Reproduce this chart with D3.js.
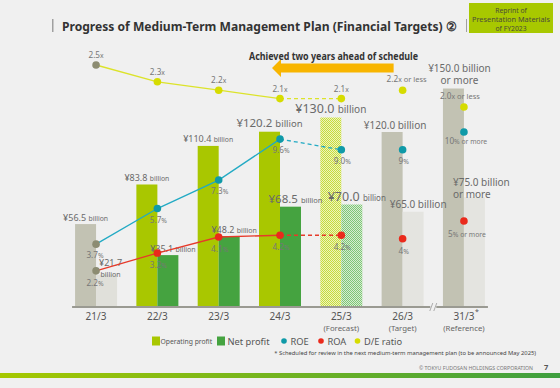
<!DOCTYPE html>
<html>
<head>
<meta charset="utf-8">
<script src="https://cdn.jsdelivr.net/npm/d3@7"></script>
<style>
body { margin: 0; background: #f0f0f0; }
svg { display: block; font-family: "Noto Sans", "Open Sans", sans-serif; }
</style>
</head>
<body>
<div id="chart"></div>
<script>
// Chart data
const categories = ["21/3", "22/3", "23/3", "24/3", "25/3", "26/3", "31/3"];
const subLabels = ["", "", "", "", "(Forecast)", "(Target)", "(Reference)"];
const operatingProfit = [56.5, 83.8, 110.4, 120.2, 130.0, 120.0, 150.0];
const netProfit = [21.7, 35.1, 48.2, 68.5, 70.0, 65.0, 75.0];
const roe = [3.7, 5.7, 7.3, 9.6, 9.0, 9, 10];
const roa = [2.2, 3.2, 4.1, 4.2, 4.2, 4, 5];
const deRatio = [2.5, 2.3, 2.2, 2.1, 2.1, 2.2, 2.0];
const roeLabels = ["3.7", "5.7", "7.3", "9.6", "9.0", "9", "10"];
const roaLabels = ["2.2", "3.2", "4.1", "4.2", "4.2", "4", "5"];
const deLabels = ["2.5", "2.3", "2.2", "2.1", "2.1", "2.2", "2.0"];
const opLabels = ["¥56.5", "¥83.8", "¥110.4", "¥120.2", "¥130.0", "¥120.0", "¥150.0"];
const netLabels = ["¥21.7", "¥35.1", "¥48.2", "¥68.5", "¥70.0", "¥65.0", "¥75.0"];

const W = 560, H = 388;
const baseY = 306;

const svg = d3.select("#chart").append("svg")
    .attr("width", W).attr("height", H);

svg.append("rect").attr("width", W).attr("height", H).attr("fill", "#f0f0f0");

const defs = svg.append("defs");
function checker(id, a, b) {
    const p = defs.append("pattern").attr("id", id)
        .attr("width", 2).attr("height", 2).attr("patternUnits", "userSpaceOnUse");
    p.append("rect").attr("width", 2).attr("height", 2).attr("fill", a);
    p.append("rect").attr("width", 1).attr("height", 1).attr("fill", b);
    p.append("rect").attr("x", 1).attr("y", 1).attr("width", 1).attr("height", 1).attr("fill", b);
}
checker("hatchOp", "#eef4bc", "#c6dc3c");
checker("hatchNet", "#d6ecd2", "#7ec676");

const grad = defs.append("linearGradient").attr("id", "footGrad");
grad.append("stop").attr("offset", "0%").attr("stop-color", "#a6c800");
grad.append("stop").attr("offset", "100%").attr("stop-color", "#3e9f40");

// Scales
const x = d3.scaleBand().domain(categories).range([65.4, 494.6])
    .paddingInner(0.315).paddingOuter(0.1575);
const x1 = d3.scaleBand().domain(["op", "net"]).range([0, x.bandwidth()]);
const yBar = d3.scaleLinear().domain([0, 150]).range([baseY, 88.5]);
const yPct = d3.scaleLinear().domain([0, 10]).range([310, 132]);
const yDE = d3.scaleLinear().domain([2.0, 2.5]).range([107, 65]);
const cx = i => x(categories[i]) + x.bandwidth() / 2;

function opFill(i) {
    if (i === 4) return "url(#hatchOp)";
    if (i === 0 || i >= 5) return "#c2c2b3";
    return "#a9c700";
}
function netFill(i) {
    if (i === 4) return "url(#hatchNet)";
    if (i === 0) return "#e0e0da";
    if (i >= 5) return "#e4e4e0";
    return "#45a340";
}

// Bars
svg.selectAll(".op").data(operatingProfit).enter().append("rect")
    .attr("x", (d, i) => x(categories[i]) + x1("op"))
    .attr("y", d => yBar(d))
    .attr("width", x1.bandwidth())
    .attr("height", d => baseY - yBar(d))
    .attr("fill", (d, i) => opFill(i));

svg.selectAll(".net").data(netProfit).enter().append("rect")
    .attr("x", (d, i) => x(categories[i]) + x1("net"))
    .attr("y", d => yBar(d))
    .attr("width", x1.bandwidth())
    .attr("height", d => baseY - yBar(d))
    .attr("fill", (d, i) => netFill(i));

// Axis
const axisG = svg.append("g")
    .attr("transform", `translate(0,${baseY})`)
    .call(d3.axisBottom(x).tickSize(0).tickPadding(6.5));
axisG.select(".domain").remove();
axisG.selectAll("text")
    .attr("fill", "#555").attr("font-size", 10)
    .attr("font-family", "Noto Sans");

svg.append("line")
    .attr("x1", x(categories[0]) - 3).attr("x2", x(categories[6]) + x.bandwidth() + 3)
    .attr("y1", baseY + 1).attr("y2", baseY + 1)
    .attr("stroke", "#9a9a92").attr("stroke-width", 2);

// axis break
const brk = (x(categories[5]) + x.bandwidth() + x(categories[6])) / 2;
svg.append("rect").attr("x", brk - 3).attr("y", baseY - 2).attr("width", 6).attr("height", 6).attr("fill", "#f0f0f0");
[-2, 2].forEach(o => {
    svg.append("line")
        .attr("x1", brk + o - 1.5).attr("y1", baseY + 5)
        .attr("x2", brk + o + 1.5).attr("y2", baseY - 3)
        .attr("stroke", "#999").attr("stroke-width", 0.8);
});

svg.selectAll(".sub").data(subLabels).enter().append("text")
    .attr("x", (d, i) => cx(i)).attr("y", baseY + 25)
    .attr("text-anchor", "middle").attr("font-size", 7.8).attr("fill", "#666")
    .text(d => d);

svg.append("text").attr("x", cx(6) + 11).attr("y", baseY + 8)
    .attr("font-size", 7).attr("fill", "#555").text("*");

// text with mixed sizes
function mixed(x0, y0, anchor, parts, color) {
    const t = svg.append("text").attr("x", x0).attr("y", y0)
        .attr("text-anchor", anchor).attr("fill", color || "#6a6a6a");
    parts.forEach(p => t.append("tspan").attr("font-size", p[1]).text(p[0]));
    return t;
}

// Operating profit labels
const opSizes = [[9, 6.8], [9, 6.8], [9, 6.8], [11.5, 9.5], [12.5, 10], [10, 10], [10, 10]];
operatingProfit.forEach((d, i) => {
    const xc = x(categories[i]) + x1("op") + x1.bandwidth() / 2;
    const big = i === 3 || i === 4;
    if (i === 6) {
        mixed(xc + 6, yBar(d) - 17, "middle", [[opLabels[i] + " billion", opSizes[i][0]]]);
        mixed(xc + 6, yBar(d) - 5, "middle", [["or more", opSizes[i][0]]]);
    } else {
        mixed(xc + (i === 5 ? 3 : 0), yBar(d) - (big ? 5 : 3.5), "middle",
            [[opLabels[i] + " ", opSizes[i][0]], ["billion", opSizes[i][1]]]);
    }
});

// Net profit labels
const netSizes = [[9, 7], [9, 7], [9, 7], [11.5, 7.5], [12.5, 8], [10, 10], [10, 10]];
netProfit.forEach((d, i) => {
    const x0 = x(categories[i]) + x1("net");
    const xc = x0 + x1.bandwidth() / 2;
    if (i === 0) {
        mixed(xc + 4, yBar(d) - 9, "middle", [[netLabels[i], netSizes[i][0]]]);
        mixed(xc + 4, yBar(d) + 2, "middle", [["billion", netSizes[i][1]]]);
    } else if (i === 6) {
        mixed(x0 - 11, yBar(d) - 11, "start", [[netLabels[i] + " billion", netSizes[i][0]]]);
        mixed(x0 - 11, yBar(d) + 1, "start", [["or more", netSizes[i][0]]]);
    } else {
        mixed(xc + 5, yBar(d) - (i >= 3 ? 4 : 3), "middle",
            [[netLabels[i] + " ", netSizes[i][0]], ["billion", netSizes[i][1]]]);
    }
});

// Lines
function drawSeries(values, yScale, color, lineColor) {
    const line = d3.line().x(i => cx(i)).y(i => yScale(values[i]));
    svg.append("path").datum([0, 1, 2, 3])
        .attr("d", line).attr("fill", "none")
        .attr("stroke", lineColor).attr("stroke-width", 1.3);
    svg.append("path").datum([3, 4])
        .attr("d", line).attr("fill", "none")
        .attr("stroke", lineColor).attr("stroke-width", 1.3)
        .attr("stroke-dasharray", "4,3");
    svg.selectAll(null).data(values).enter().append("circle")
        .attr("cx", (d, i) => cx(i))
        .attr("cy", d => yScale(d))
        .attr("r", 3.8)
        .attr("fill", (d, i) => i === 0 ? "#8c8c72" : color);
}
drawSeries(deRatio, yDE, "#d6dc00", "#dce32a");
drawSeries(roe, yPct, "#0f9aa8", "#22aac4");
drawSeries(roa, yPct, "#ea2a1c", "#e63a2a");

// Point labels
deRatio.forEach((d, i) => {
    const parts = [[deLabels[i], 8.2], ["x", 6.8]];
    if (i >= 5) parts.push([" or less", 7.5]);
    const xo = i === 5 ? 4 : i === 6 ? -4 : 0;
    mixed(cx(i) + xo, yDE(d) - (i >= 5 ? 8 : 7), "middle", parts, "#777");
});
roe.forEach((d, i) => {
    const parts = [[roeLabels[i], 8.2], ["%", 6.8]];
    if (i === 6) parts.push([" or more", 6.8]);
    mixed(cx(i) + (i === 6 ? 2 : i === 0 ? -1 : 1), yPct(d) + (i === 6 ? 12 : 14), "middle", parts, "#777");
});
roa.forEach((d, i) => {
    const parts = [[roaLabels[i], 8.2], ["%", 6.8]];
    if (i === 6) parts.push([" or more", 6.8]);
    mixed(cx(i) + (i === 6 ? 3 : i === 0 ? -1 : 1), yPct(d) + (i === 6 ? 16 : 15), "middle", parts, "#777");
});

// Annotation arrow
const tipX = cx(3) - 8, endX = cx(5) - 9, ay = 68;
svg.append("path")
    .attr("d", `M${tipX},${ay} L${tipX + 9},${ay - 9} L${tipX + 9},${ay - 4.5} L${endX},${ay - 4.5} L${endX},${ay + 4.5} L${tipX + 9},${ay + 4.5} L${tipX + 9},${ay + 9} Z`)
    .attr("fill", "#f8b500");
svg.append("text").attr("x", 249).attr("y", 60)
    .attr("font-size", 10).attr("font-weight", "bold").attr("fill", "#333")
    .attr("textLength", 169).attr("lengthAdjust", "spacingAndGlyphs")
    .text("Achieved two years ahead of schedule");

// Title
svg.append("rect").attr("x", 52).attr("y", 19).attr("width", 1.5).attr("height", 13).attr("fill", "#a0a0a0");
svg.append("rect").attr("x", 466).attr("y", 19).attr("width", 1).attr("height", 13).attr("fill", "#a0a0a0");
svg.append("text").attr("x", 62).attr("y", 30.5)
    .attr("font-size", 13).attr("font-weight", "bold").attr("fill", "#333")
    .attr("textLength", 395).attr("lengthAdjust", "spacingAndGlyphs")
    .text("Progress of Medium-Term Management Plan  (Financial Targets) ②");

svg.append("rect").attr("x", 469).attr("y", 3).attr("width", 84).attr("height", 30).attr("fill", "#a8c800");
["Reprint of", "Presentation Materials", "of FY2023"].forEach((t, i) => {
    const tx = svg.append("text").attr("x", 511).attr("y", 12.5 + i * 9.3)
        .attr("text-anchor", "middle").attr("font-size", 6.8).attr("fill", "#4a4a3a")
        .text(t);
    if (i === 1) tx.attr("textLength", 78).attr("lengthAdjust", "spacingAndGlyphs");
});

// Legend
const leg = svg.append("g").attr("transform", "translate(0,341)");
leg.append("rect").attr("x", 152).attr("y", -4.5).attr("width", 8).attr("height", 9).attr("fill", "#a9c700");
leg.append("text").attr("x", 160.5).attr("y", 2.5).attr("font-size", 6.8).attr("fill", "#555").text("Operating profit");
leg.append("rect").attr("x", 217).attr("y", -4.5).attr("width", 8).attr("height", 9).attr("fill", "#45a340");
leg.append("text").attr("x", 227.5).attr("y", 3.5).attr("font-size", 9.3).attr("fill", "#555").text("Net profit");
[[284, "#0f9aa8", "ROE"], [321, "#ea2a1c", "ROA"], [357.5, "#d6dc00", "D/E ratio"]].forEach(l => {
    leg.append("circle").attr("cx", l[0]).attr("cy", 0).attr("r", 2.8).attr("fill", l[1]);
    leg.append("text").attr("x", l[0] + 6.5).attr("y", 3.5).attr("font-size", 9.3).attr("fill", "#555").text(l[2]);
});

svg.append("text").attr("x", 536).attr("y", 355).attr("text-anchor", "end")
    .attr("font-size", 5.8).attr("fill", "#444")
    .text("* Scheduled for review in the next medium-term management plan (to be announced May 2025)");

// Footer
svg.append("text").attr("x", 533).attr("y", 369.5).attr("text-anchor", "end")
    .attr("font-size", 5.2).attr("fill", "#777")
    .text("© TOKYU FUDOSAN HOLDINGS CORPORATION");
svg.append("text").attr("x", 544).attr("y", 370).attr("font-size", 7.5)
    .attr("font-weight", "bold").attr("fill", "#555").text("7");
svg.append("rect").attr("x", 0).attr("y", 373).attr("width", W).attr("height", 5).attr("fill", "url(#footGrad)");
</script>
</body>
</html>
